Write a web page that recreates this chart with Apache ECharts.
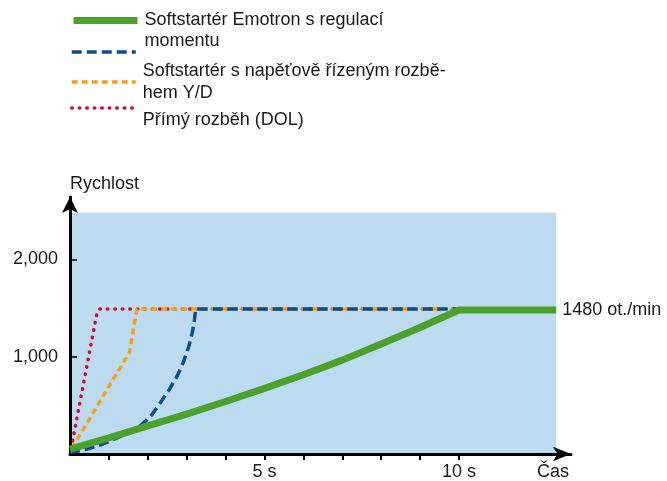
<!DOCTYPE html>
<html><head><meta charset="utf-8">
<script src="https://cdn.jsdelivr.net/npm/echarts@6/dist/echarts.min.js"></script>
<style>html,body{margin:0;padding:0;background:#fff}#c{width:667px;height:481px}</style>
</head><body><div id="c"></div>
<script>
// Series names (legend texts)
const nameEmotron = 'Softstartér Emotron s regulací momentu';
const nameSoft = 'Softstartér s napěťově řízeným rozběhem';
const nameYD = 'Y/D';
const nameDOL = 'Přímý rozběh (DOL)';
// [time s, speed rpm]
const emotron = [[0,50],[1,165],[2,290],[3,410],[4,540],[5,675],[6,815],[7,965],[8,1130],[9,1300],[10,1480],[12.5,1480]];
const softVoltage = [[0,15],[0.4,45],[0.8,95],[1.3,180],[1.82,294],[2.1,400],[2.33,533],[2.55,660],[2.76,805],[2.92,950],[3.06,1113],[3.15,1260],[3.2,1380],[3.23,1490],[10,1490]];
const starDelta = [[0.05,60],[0.8,560],[1.53,1045],[1.72,1490],[10,1490]];
const dol = [[0.03,60],[0.69,1440],[0.76,1490],[12.5,1490]];
const xTicks = [1,2,3,4,5,6,7,8,9,10];
const xLabels = [5,10];
const yTicks = [1000,2000];
const shadeArea = [[0,0],[12.5,2480]];
const endLabelText = '1480 ot./min';

const FONT = 'Liberation Sans';
const TXT = '#1a1a1a';
const cGreen = '#4aa22d', cBlue = '#0c4e8c', cOrange = '#f7a01a', cRed = '#d20a30';

const chart = echarts.init(document.getElementById('c'));
const legendBase = {left:70, padding:0, itemWidth:64, itemHeight:14, selectedMode:false,
  itemStyle:{color:'rgba(0,0,0,0)', borderColor:'rgba(0,0,0,0)', borderWidth:0},
  textStyle:{fontFamily:FONT, fontSize:18, color:TXT, padding:[0,0,0,2]}};
chart.setOption({
  animation:false,
  textStyle:{fontFamily:FONT},
  grid:{left:70, right:96, top:197, bottom:26},
  legend:[
    Object.assign({}, legendBase, {top:-12.5, data:[nameEmotron], lineStyle:{width:7},
      formatter:()=> '\nSoftstartér Emotron s regulací\nmomentu',
      textStyle:Object.assign({}, legendBase.textStyle, {lineHeight:21, padding:[3,0,0,2]})}),
    Object.assign({}, legendBase, {top:45, data:[nameSoft], lineStyle:{width:3.5}, formatter:()=>''}),
    Object.assign({}, legendBase, {top:60, data:[nameYD], lineStyle:{width:3.5},
      formatter:()=> 'Softstartér s napěťově řízeným rozbě-\nhem Y/D',
      textStyle:Object.assign({}, legendBase.textStyle, {lineHeight:22})}),
    Object.assign({}, legendBase, {top:83, data:[nameDOL], lineStyle:{width:3.5},
      formatter:()=> '\nPřímý rozběh (DOL)',
      textStyle:Object.assign({}, legendBase.textStyle, {lineHeight:25})})
  ],
  xAxis:{type:'value', min:0, max:12.88, z:5,
    name:'Čas', nameLocation:'end', nameGap:-2,
    nameTextStyle:{fontFamily:FONT, fontSize:18, color:TXT, align:'right', verticalAlign:'top', padding:[9,0,0,0]},
    axisLine:{show:true, lineStyle:{color:'#000', width:3}, symbol:['none','arrow'], symbolSize:[11,18]},
    axisTick:{show:true, customValues:xTicks, length:6, lineStyle:{color:'#000', width:2}},
    axisLabel:{show:true, customValues:xLabels, formatter:v=>v+' s', fontFamily:FONT, fontSize:18, color:TXT, margin:9},
    splitLine:{show:false}},
  yAxis:{type:'value', min:0, max:2642, z:5,
    name:'Rychlost', nameLocation:'end', nameGap:13,
    nameTextStyle:{fontFamily:FONT, fontSize:18, color:TXT, align:'left', verticalAlign:'middle'},
    axisLine:{show:true, lineStyle:{color:'#000', width:3}, symbol:['none','arrow'], symbolSize:[12,16]},
    axisTick:{show:true, inside:true, customValues:yTicks, length:7, lineStyle:{color:'#000', width:1.5}},
    axisLabel:{show:true, customValues:yTicks, formatter:v=>v.toLocaleString('en-US'), fontFamily:FONT, fontSize:18, color:TXT, margin:12},
    splitLine:{show:false}},
  series:[
    {type:'line', name:'_bg', data:[], z:1, silent:true,
      markArea:{silent:true, z:1, itemStyle:{color:'#bddbf0'},
        data:[[{coord:shadeArea[0]},{coord:shadeArea[1]}]]}},
    {type:'line', name:nameDOL, data:dol, z:3, symbol:'none', showSymbol:false,
      lineStyle:{color:cRed, width:3.5, type:[0.5,7], cap:'round'}, itemStyle:{color:cRed}},
    {type:'line', name:nameYD, data:starDelta, z:4, symbol:'none', showSymbol:false,
      lineStyle:{color:cOrange, width:3.5, type:[6,4]}, itemStyle:{color:cOrange}},
    {type:'line', name:nameSoft, data:softVoltage, z:5, symbol:'none', showSymbol:false,
      lineStyle:{color:cBlue, width:3.5, type:[10,5]}, itemStyle:{color:cBlue}},
    {type:'line', name:nameEmotron, data:emotron, z:6, symbol:'none', showSymbol:false,
      lineStyle:{color:cGreen, width:7}, itemStyle:{color:cGreen},
      endLabel:{show:true, formatter:endLabelText, distance:6, fontFamily:FONT, fontSize:18, color:TXT}}
  ]
});
</script>
</body></html>
